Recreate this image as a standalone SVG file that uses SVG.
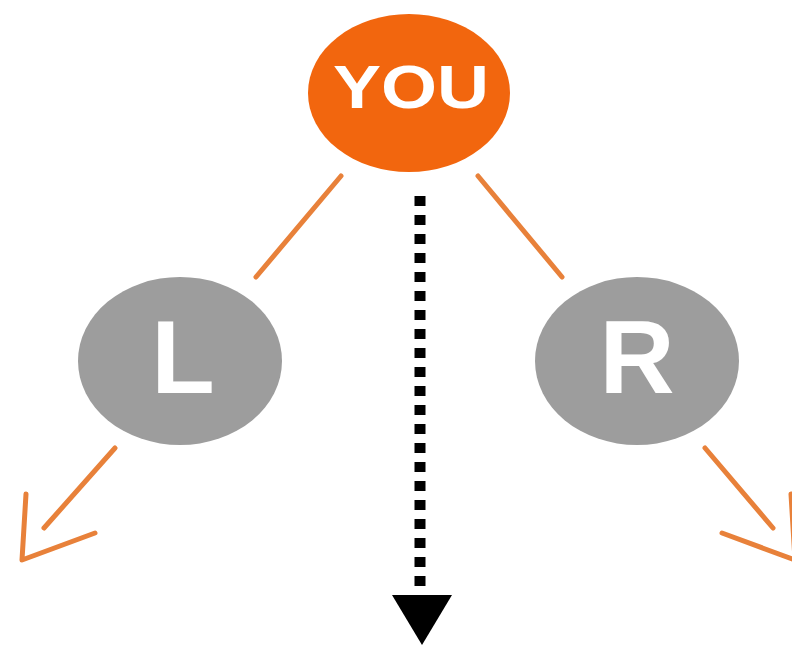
<svg xmlns="http://www.w3.org/2000/svg" width="792" height="647" viewBox="0 0 792 647">
<style>
.edge{stroke:#e8813a;stroke-width:5;fill:none;stroke-linecap:round;stroke-linejoin:round}
.grey{fill:#9d9d9d}
.lbl{fill:#ffffff;font-family:"Liberation Sans",Arial,sans-serif;font-weight:bold;text-anchor:middle}
</style>
<rect width="792" height="647" fill="#ffffff"/>
<g id="connectors">
<line class="edge" x1="341" y1="176" x2="256" y2="277"/>
<line class="edge" x1="478" y1="176" x2="562" y2="277"/>
<line class="edge" x1="115" y1="448" x2="44" y2="528"/>
<polyline class="edge" points="26,494 22,560 95,533"/>
<line class="edge" x1="705" y1="448" x2="773" y2="528"/>
<polyline class="edge" points="791,494 795,560 722,533"/>
<line x1="420" y1="196" x2="420" y2="595" stroke="#000" stroke-width="11" stroke-dasharray="10,9"/>
<polygon points="392,595 452,595 422,645" fill="#000"/>
</g>
<g id="you">
<ellipse cx="409" cy="93" rx="101" ry="79" fill="#f2660e"/>
<text class="lbl" x="411" y="108" font-size="62" textLength="156" lengthAdjust="spacingAndGlyphs">YOU</text>
</g>
<g id="left">
<ellipse class="grey" cx="180" cy="361" rx="102" ry="84"/>
<text class="lbl" x="183" y="393" font-size="104">L</text>
</g>
<g id="right">
<ellipse class="grey" cx="637" cy="361" rx="102" ry="84"/>
<text class="lbl" x="637" y="393" font-size="104">R</text>
</g>
</svg>
